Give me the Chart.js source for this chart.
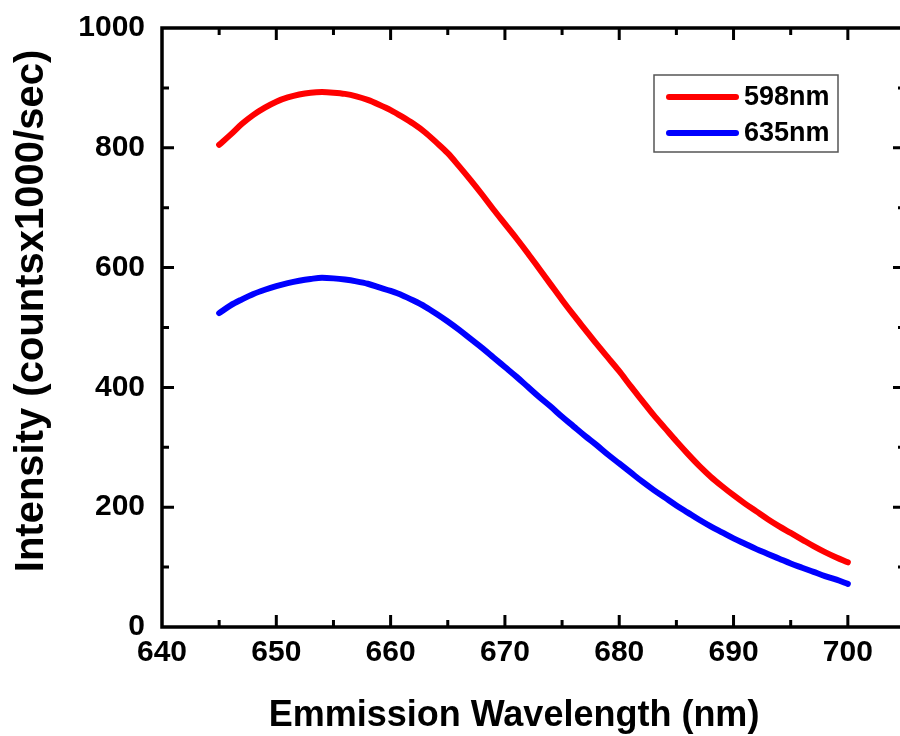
<!DOCTYPE html>
<html>
<head>
<meta charset="utf-8">
<script src="https://cdn.jsdelivr.net/npm/chart.js@4.4.1/dist/chart.umd.min.js"></script>
<style>
  html, body { margin: 0; padding: 0; background: #fff; overflow: hidden; }
  #wrap { width: 915px; height: 736px; position: relative; }
</style>
</head>
<body>
<div id="wrap"><canvas id="c"></canvas></div>
<script>
// ---- data ----
const wavelengths = [645,646,647,648,649,650,651,652,653,654,655,656,657,658,659,660,661,662,663,664,665,666,667,668,669,670,671,672,673,674,675,676,677,678,679,680,681,682,683,684,685,686,687,688,689,690,691,692,693,694,695,696,697,698,699,700];
const series598 = [805,822,840,855,867,877,884,889,892,893,892,890,886,880,872,863,852,840,826,809,791,769,746,722,697,673,649,624,598,572,546,521,497,473,450,427,402,378,354,332,310,289,269,251,235,220,206,193,180,168,157,146,135,125,116,108];
const series635 = [524,537,547,556,563,569,574,578,581,583,582,580,577,573,567,561,554,545,535,523,510,496,481,466,450,434,418,401,384,368,351,335,319,304,288,273,258,243,229,216,203,191,179,168,158,148,139,130,122,114,106,99,92,85,79,72];
const seriesLabels = ["598nm", "635nm"];
const xTitle = "Emmission Wavelength (nm)";
const yTitle = "Intensity (countsx1000/sec)";

const FONT = "'Liberation Sans', Arial, sans-serif";

function toPoints(xs, ys) { return xs.map((x, i) => ({ x: x, y: ys[i] })); }

const decorPlugin = {
  id: 'decor',
  afterDraw(chart) {
    const ctx = chart.ctx;
    const { left, top, right, bottom } = chart.chartArea;
    const xs = chart.scales.x, ys = chart.scales.y;
    ctx.save();
    ctx.strokeStyle = '#000';
    ctx.lineWidth = 3.5;
    ctx.lineCap = 'butt';
    ctx.strokeRect(left, top, right - left, bottom - top);
    ctx.lineWidth = 3;
    for (let v = 645; v < 705; v += 5) {
      const len = (v % 10 === 0) ? 12 : 7;
      const px = xs.getPixelForValue(v);
      ctx.beginPath();
      ctx.moveTo(px, bottom); ctx.lineTo(px, bottom - len);
      ctx.moveTo(px, top); ctx.lineTo(px, top + len);
      ctx.stroke();
    }
    for (let v = 100; v < 1000; v += 100) {
      const len = (v % 200 === 0) ? 12 : 7;
      const py = ys.getPixelForValue(v);
      ctx.beginPath();
      ctx.moveTo(left, py); ctx.lineTo(left + len, py);
      ctx.moveTo(right, py); ctx.lineTo(right - len, py);
      ctx.stroke();
    }
    ctx.fillStyle = '#000';
    ctx.textAlign = 'center';
    ctx.textBaseline = 'middle';
    ctx.font = "bold 36px " + FONT;
    ctx.fillText(xTitle, 514, 716);
    ctx.save();
    ctx.translate(32, 311);
    ctx.rotate(-Math.PI / 2);
    ctx.font = "bold 40px " + FONT;
    ctx.fillText(yTitle, 0, 0);
    ctx.restore();
    ctx.lineWidth = 1.5;
    ctx.strokeStyle = '#555';
    ctx.strokeRect(654, 75, 184, 77);
    const rows = [97, 133];
    chart.data.datasets.forEach((ds, i) => {
      ctx.strokeStyle = ds.borderColor;
      ctx.lineWidth = 6;
      ctx.lineCap = 'round';
      ctx.beginPath();
      ctx.moveTo(669, rows[i]); ctx.lineTo(736, rows[i]);
      ctx.stroke();
      ctx.fillStyle = '#000';
      ctx.textAlign = 'left';
      ctx.font = "bold 27px " + FONT;
      ctx.fillText(ds.label, 744, rows[i] + 1);
    });
    ctx.restore();
  }
};

new Chart(document.getElementById('c'), {
  type: 'line',
  data: {
    datasets: [
      { label: seriesLabels[0], data: toPoints(wavelengths, series598), borderColor: '#ff0000', borderWidth: 6, pointRadius: 0, cubicInterpolationMode: 'monotone', fill: false, borderCapStyle: 'round', borderJoinStyle: 'round' },
      { label: seriesLabels[1], data: toPoints(wavelengths, series635), borderColor: '#0000ff', borderWidth: 6, pointRadius: 0, cubicInterpolationMode: 'monotone', fill: false, borderCapStyle: 'round', borderJoinStyle: 'round' }
    ]
  },
  options: {
    responsive: true,
    maintainAspectRatio: false,
    animation: false,
    layout: { padding: { top: 28, right: 10, bottom: 0, left: 0 } },
    plugins: { legend: { display: false }, tooltip: { enabled: false } },
    scales: {
      x: {
        type: 'linear', min: 640, max: 705,
        grid: { display: false, drawTicks: false },
        border: { display: false },
        ticks: { stepSize: 10, includeBounds: false, autoSkip: false, maxRotation: 0, padding: 8, color: '#000', font: { family: FONT, size: 30, weight: 'bold' }, callback: (v) => String(v) },
        afterFit(scale) { scale.height = 109; scale.paddingLeft = 0; scale.paddingRight = 0; }
      },
      y: {
        min: 0, max: 1000,
        grid: { display: false, drawTicks: false },
        border: { display: false },
        ticks: { stepSize: 200, padding: 17, color: '#000', font: { family: FONT, size: 30, weight: 'bold' }, callback: (v) => String(v) },
        afterFit(scale) { scale.width = 162; scale.paddingTop = 0; scale.paddingBottom = 0; }
      }
    }
  },
  plugins: [decorPlugin]
});
</script>
</body>
</html>
